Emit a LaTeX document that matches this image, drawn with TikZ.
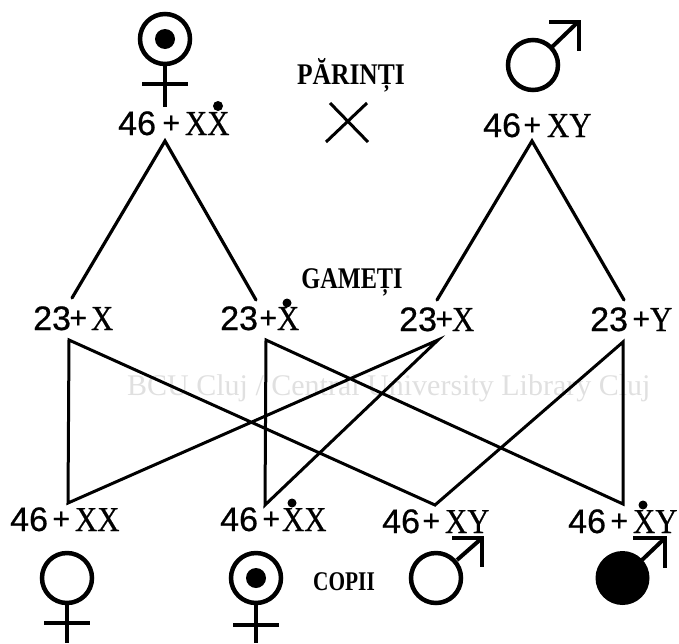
\documentclass[tikz,border=0pt]{standalone}
\usepackage{graphicx}
\usepackage{fontspec}
\setmainfont{Liberation Serif}
\newfontfamily\dgfont[FakeBold=0.6]{Liberation Sans}
\newfontfamily\xfont[FakeBold=0.5]{Liberation Serif}
% digits, gap, plus, gap, letters
\newcommand\lab[4]{{\dgfont\fontsize{34}{34}\selectfont #1}\kern\dimexpr#2pt-1.5pt\relax\raisebox{2pt}{\dgfont\fontsize{30}{30}\selectfont +}\kern\dimexpr#3pt-1pt\relax{\xfont\fontsize{35}{35}\selectfont\scalebox{.88}[1]{#4}}}
\tikzset{
  lbl/.style={inner sep=0pt,anchor=base west},
  captxt/.style={inner sep=0pt,anchor=base},
  ln/.style={line width=3.2pt,line join=miter,line cap=round},
  sym/.style={line width=4.5pt},
  bar/.style={line width=4pt},
  cross/.style={line width=3pt,line join=miter,miter limit=20}
}
\newcommand\fem[6]{% x, y, r, unused, cross y, stem end y; half-width 23
  \draw[sym] (#1,#2) circle (#3);
  \draw[bar] (#1,#2+#3+2) -- (#1,#6);
  \draw[bar] (#1-23,#5) -- (#1+23,#5);
}
\begin{document}
\begin{tikzpicture}[x=1pt,y=-1pt]
\useasboundingbox (0,0) rectangle (679,643);
% scan watermark
\node[inner sep=0pt,anchor=base west,text=black!12,font=\fontsize{30}{30}\selectfont] (wm) at (127,395) {BCU Cluj / Central University Library Cluj};
% parents
\fem{165}{39}{25}{0}{84}{107}
\fill (165,39) circle (10);
\draw[sym] (533,65) circle (25);
\draw[bar] (552,47) -- (578,22);
\draw[bar] (549,22) -- (579,22) -- (579,51);
\node[lbl] (p1) at (118,135) {\lab{46}{8}{6}{XX}};
\fill (218,106) circle (5);
\node[lbl] (p2) at (483,137) {\lab{46}{4}{7}{XY}};
\node[captxt] (tp) at (351,84) {\fontsize{30}{30}\selectfont\bfseries\scalebox{.85}[1]{PĂRINȚI}};
\coordinate (c1) at (330,103); \coordinate (c2) at (368,142);
\coordinate (c3) at (367,103); \coordinate (c4) at (326,142);
\draw[line width=3pt] (c1) -- (c2) (c3) -- (c4);
% meiosis
\coordinate (a1) at (165,141); \coordinate (a2) at (532,141);
\coordinate (b1) at (72,298); \coordinate (b2) at (256,300);
\coordinate (b3) at (437,300); \coordinate (b4) at (624,300);
\draw[ln,line join=miter] (b1) -- (a1) -- (b2);
\draw[ln,line join=miter] (b3) -- (a2) -- (b4);
\node[captxt] (tg) at (352,288) {\fontsize{30}{30}\selectfont\bfseries\scalebox{.81}[1]{GAMEȚI}};
\node[lbl] (g1) at (33,330) {\lab{23}{0}{5}{X}};
\node[lbl] (g2) at (220,330) {\lab{23}{3}{1}{X}};
\fill (287,303) circle (4.5);
\node[lbl] (g3) at (399,331) {\lab{23}{0}{0}{X}};
\node[lbl] (g4) at (590,331) {\lab{23}{6}{1}{Y}};
% crossings
\coordinate (u1) at (69,340); \coordinate (u2) at (266,340);
\coordinate (u3) at (438,340); \coordinate (u4) at (623,342);
\coordinate (d1) at (68,503); \coordinate (d2) at (265,505);
\coordinate (d3) at (435,505); \coordinate (d4) at (623,504);
\draw[cross] (u1) -- (d3) -- (u4) -- (d4) -- (u2) -- (d2) -- (u3) -- (d1) -- cycle;
% children labels
\node[lbl] (k1) at (10,531) {\lab{46}{6}{6}{XX}};
\node[lbl] (k2) at (220,531) {\lab{46}{6}{3}{XX}};
\fill (292,503) circle (4.5);
\node[lbl] (k3) at (382,533) {\lab{46}{4}{6}{XY}};
\node[lbl] (k4) at (568,533) {\lab{46}{6}{6}{XY}};
\fill (643,505) circle (4.5);
\node[captxt] (tc) at (344,590) {\fontsize{27}{27}\selectfont\bfseries\scalebox{.79}[1]{COPII}};
% children symbols
\fem{67}{578}{25}{0}{623}{643}
\fem{256}{578}{25}{0}{625}{643}
\fill (256,578) circle (10);
\draw[sym] (436,578) circle (25);
\draw[bar] (457,560) -- (482,538);
\draw[bar] (452,538) -- (482,538) -- (482,567);
\fill (622.5,578) circle (27);
\draw[bar] (642,560) -- (665,538);
\draw[bar] (633,538) -- (665,538) -- (665,568);
\end{tikzpicture}
\end{document}
